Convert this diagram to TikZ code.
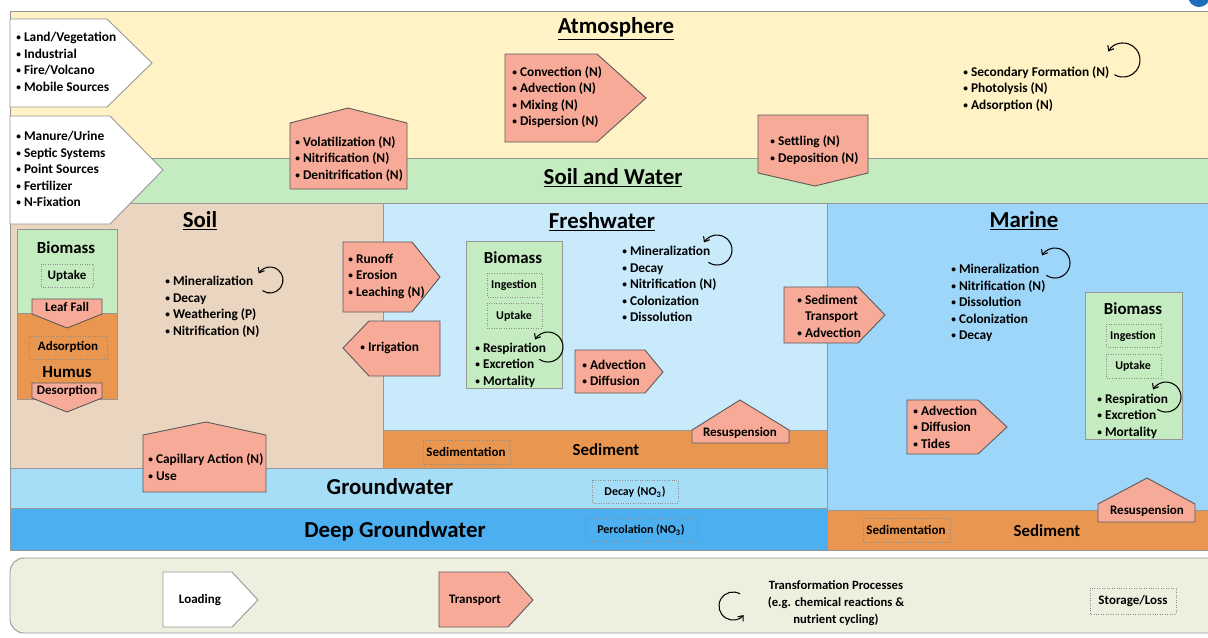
\documentclass[tikz,border=0pt]{standalone}
\usepackage{fontspec}
\usepackage{graphicx}
\setmainfont{Carlito}
\usetikzlibrary{arrows.meta}

\definecolor{atmoyel}{RGB}{255,242,196}
\definecolor{swgreen}{RGB}{196,236,192}
\definecolor{soiltan}{RGB}{234,214,192}
\definecolor{freshblue}{RGB}{200,234,251}
\definecolor{marineblue}{RGB}{158,214,250}
\definecolor{gwblue}{RGB}{166,222,247}
\definecolor{deepblue}{RGB}{76,176,240}
\definecolor{sedorange}{RGB}{233,151,80}
\definecolor{salmon}{RGB}{248,170,152}
\definecolor{legendbg}{RGB}{239,239,224}
\definecolor{edgegray}{RGB}{150,150,150}
\definecolor{logoblue}{RGB}{30,110,190}

\newcommand{\itm}{\raisebox{0.15ex}{\scalebox{0.7}{\textbullet}}\ }

\tikzset{
  zone/.style={draw=edgegray, line width=0.5pt},
  transport/.style={draw=black!65, fill=salmon, line width=0.5pt},
  loading/.style={draw=edgegray, fill=white, line width=0.5pt},
  store/.style={draw=black!45, densely dotted, line width=0.4pt},
  bullets/.style={align=left, anchor=west, inner sep=0pt, font=\bfseries\fontsize{7.6}{9.4}\selectfont},
  zonetitle/.style={anchor=base, inner sep=0pt, font=\bfseries\fontsize{13}{15}\selectfont},
  boxtitle/.style={inner sep=0pt, font=\bfseries\fontsize{9.6}{11}\selectfont},
  smalltext/.style={inner sep=0pt, font=\bfseries\fontsize{7.4}{9}\selectfont},
  tinytext/.style={inner sep=0pt, font=\bfseries\fontsize{6.8}{8}\selectfont},
  cyc/.style={-{Straight Barb[length=2.5pt,width=4pt]}, line width=0.6pt},
}

\begin{document}
\begin{tikzpicture}[x=0.02cm, y=-0.02cm]
  \useasboundingbox (0,0) rectangle (1208,637);
  \clip (0,0) rectangle (1208,637);
  \fill[white] (0,0) rectangle (1208,637);
  \fill[logoblue] (1199,-4) circle[radius=11];

  % zones
  \draw[zone, fill=atmoyel] (10,11) rectangle (1214,158);
  \draw[zone, fill=swgreen] (10,158) rectangle (1214,203);
  \draw[zone, fill=soiltan] (10,203) rectangle (383,468);
  \draw[zone, fill=freshblue] (383,203) rectangle (827,430);
  \draw[zone, fill=sedorange] (383,430) rectangle (827,468);
  \draw[zone, fill=marineblue] (827,203) rectangle (1214,510);
  \draw[zone, fill=sedorange] (827,510) rectangle (1214,550);
  \draw[zone, fill=gwblue] (10,468) rectangle (827,508);
  \draw[zone, fill=deepblue] (10,508) rectangle (827,550);
  \draw[zone, fill=legendbg, rounded corners=8pt] (10,558) rectangle (1230,633);

  \node[zonetitle] (atmotitle) at (616,33) {\underline{Atmosphere}};
  \node[zonetitle] (swtitle) at (613,184) {\underline{Soil and Water}};
  \node[zonetitle] (soiltitle) at (200,227) {\underline{Soil}};
  \node[zonetitle] (fwtitle) at (602,228) {\underline{Freshwater}};
  \node[zonetitle] (mrtitle) at (1024,227) {\underline{Marine}};
  \node[zonetitle] (gwtitle) at (390,494) {Groundwater};
  \node[zonetitle] (dgwtitle) at (395,537) {Deep Groundwater};

  % sources
  \draw[loading] (10,19) -- (107,19) -- (152,63) -- (107,107) -- (10,107) -- cycle;
  \draw[loading] (10,116) -- (110,116) -- (163,170) -- (110,224) -- (10,224) -- cycle;
  \node[bullets] (srcair) at (16,62) {\itm Land/Vegetation\\\itm Industrial\\\itm Fire/Volcano\\\itm Mobile Sources};
  \node[bullets] (srcland) at (16,169) {\itm Manure/Urine\\\itm Septic Systems\\\itm Point Sources\\\itm Fertilizer\\\itm N-Fixation};

  % atmosphere
  \draw[transport] (290,123) -- (348,108) -- (407,123) -- (407,189) -- (290,189) -- cycle;
  \node[bullets] (volat) at (295,159) {\itm Volatilization (N)\\\itm Nitrification (N)\\\itm Denitrification (N)};
  \draw[transport] (505,54) -- (597,54) -- (646,98) -- (597,142) -- (505,142) -- cycle;
  \node[bullets] (convec) at (512,97) {\itm Convection (N)\\\itm Advection (N)\\\itm Mixing (N)\\\itm Dispersion (N)};
  \draw[transport] (758,115) -- (868,115) -- (868,173) -- (815,186) -- (758,173) -- cycle;
  \node[bullets] (settle) at (770,150) {\itm Settling (N)\\\itm Deposition (N)};
  \node[bullets] (secform) at (963,89) {\itm Secondary Formation (N)\\\itm Photolysis (N)\\\itm Adsorption (N)};
  \draw[cyc] (1123,60) ++(120:17) arc[start angle=120, end angle=-150, radius=17];

  % soil
  \draw[zone, fill=swgreen] (17,229) rectangle (117,313);
  \draw[zone, fill=sedorange] (17,313) rectangle (117,399);
  \node[boxtitle] (soilbio) at (66,248) {Biomass};
  \draw[store] (41,264) rectangle (93,287);
  \node[smalltext] (soilup) at (67,276) {Uptake};
  \draw[transport] (32,299) -- (102,299) -- (102,314) -- (67,328) -- (32,314) -- cycle;
  \node[smalltext] (leaffall) at (67,307) {Leaf Fall};
  \draw[store] (29,336) rectangle (107,359);
  \node[smalltext] (adsorp) at (68,347) {Adsorption};
  \node[boxtitle] (humus) at (67,372) {Humus};
  \draw[transport] (32,383) -- (102,383) -- (102,398) -- (67,412) -- (32,398) -- cycle;
  \node[smalltext] (desorp) at (67,391) {Desorption};
  \node[bullets] (soillist) at (165,307) {\itm Mineralization\\\itm Decay\\\itm Weathering (P)\\\itm Nitrification (N)};
  \draw[cyc] (270,280) ++(125:13) arc[start angle=125, end angle=-150, radius=13];
  \draw[transport] (343,242) -- (412,242) -- (440,277) -- (412,312) -- (343,312) -- cycle;
  \node[bullets] (runoff) at (348,276) {\itm Runoff\\\itm Erosion\\\itm Leaching (N)};
  \draw[transport] (369,321) -- (440,321) -- (440,376) -- (369,376) -- (343,348) -- cycle;
  \node[bullets] (irrig) at (360,348) {\itm Irrigation};
  \draw[transport] (143,435) -- (206,422) -- (266,435) -- (266,492) -- (143,492) -- cycle;
  \node[bullets] (capil) at (148,467) {\itm Capillary Action (N)\\\itm Use};

  % freshwater
  \draw[zone, fill=swgreen] (466,241) rectangle (562,388);
  \node[boxtitle] (fwbio) at (513,258) {Biomass};
  \draw[store] (487,273) rectangle (542,297);
  \node[tinytext] (fwingest) at (514,285) {Ingestion};
  \draw[store] (487,303) rectangle (542,328);
  \node[tinytext] (fwup) at (514,316) {Uptake};
  \node[bullets] (fwresp) at (475,365) {\itm Respiration\\\itm Excretion\\\itm Mortality};
  \draw[cyc] (548,347) ++(125:15) arc[start angle=125, end angle=-150, radius=15];
  \node[bullets] (fwlist) at (622,284) {\itm Mineralization\\\itm Decay\\\itm Nitrification (N)\\\itm Colonization\\\itm Dissolution};
  \draw[cyc] (717,250) ++(125:15) arc[start angle=125, end angle=-150, radius=15];
  \draw[transport] (575,350) -- (645,350) -- (663,372) -- (645,393) -- (575,393) -- cycle;
  \node[bullets] (fwadv) at (582,373) {\itm Advection\\\itm Diffusion};
  \draw[transport] (692,430) -- (740,400) -- (789,430) -- (789,443) -- (692,443) -- cycle;
  \node[smalltext] (fwresus) at (740,433) {Resuspension};
  \draw[store] (423,440) rectangle (510,464);
  \node[smalltext] (fwsedi) at (466,452) {Sedimentation};
  \node[boxtitle] (fwsed) at (606,450) {Sediment};
  \draw[transport] (784,287) -- (858,287) -- (885,315) -- (858,343) -- (784,343) -- cycle;
  \node[bullets] (sedtrans) at (797,316) {\itm Sediment\\\phantom{\itm}Transport\\\itm Advection};

  % marine
  \node[bullets] (mrlist) at (951,303) {\itm Mineralization\\\itm Nitrification (N)\\\itm Dissolution\\\itm Colonization\\\itm Decay};
  \draw[cyc] (1055,263) ++(125:15) arc[start angle=125, end angle=-150, radius=15];
  \draw[zone, fill=swgreen] (1085,292) rectangle (1182,439);
  \node[boxtitle] (mrbio) at (1133,309) {Biomass};
  \draw[store] (1106,324) rectangle (1161,347);
  \node[tinytext] (mringest) at (1133,336) {Ingestion};
  \draw[store] (1106,354) rectangle (1161,378);
  \node[tinytext] (mrup) at (1133,366) {Uptake};
  \node[bullets] (mrresp) at (1097,416) {\itm Respiration\\\itm Excretion\\\itm Mortality};
  \draw[cyc] (1166,397) ++(125:15) arc[start angle=125, end angle=-150, radius=15];
  \draw[transport] (907,400) -- (978,400) -- (1007,427) -- (978,454) -- (907,454) -- cycle;
  \node[bullets] (mradv) at (913,427) {\itm Advection\\\itm Diffusion\\\itm Tides};
  \draw[transport] (1098,504) -- (1147,478) -- (1195,504) -- (1195,522) -- (1098,522) -- cycle;
  \node[smalltext] (mrresus) at (1147,511) {Resuspension};
  \draw[store] (863,518) rectangle (950,542);
  \node[smalltext] (mrsedi) at (906,530) {Sedimentation};
  \node[boxtitle] (mrsed) at (1047,531) {Sediment};

  % groundwater
  \draw[store] (592,480) rectangle (678,503);
  \node[tinytext] (gwdecay) at (635,492) {Decay (NO\textsubscript{3})};
  \draw[store] (585,518) rectangle (697,541);
  \node[tinytext] (gwperc) at (641,530) {Percolation (NO\textsubscript{3})};

  % legend
  \draw[loading] (163,572) -- (232,572) -- (258,600) -- (232,627) -- (163,627) -- cycle;
  \node[smalltext] (legload) at (200,600) {Loading};
  \draw[transport] (439,572) -- (508,572) -- (533,600) -- (508,627) -- (439,627) -- cycle;
  \node[smalltext] (legtrans) at (475,600) {Transport};
  \draw[cyc] (733,606) ++(-60:14) arc[start angle=-60, end angle=-320, radius=14];
  \node[smalltext, align=center, font=\bfseries\fontsize{7.2}{9.6}\selectfont] (legform) at (836,603) {Transformation Processes\\(e.g. chemical reactions \&\\nutrient cycling)};
  \draw[store] (1090,588) rectangle (1176,614);
  \node[smalltext] (legstore) at (1133,601) {Storage/Loss};
\end{tikzpicture}
\end{document}
